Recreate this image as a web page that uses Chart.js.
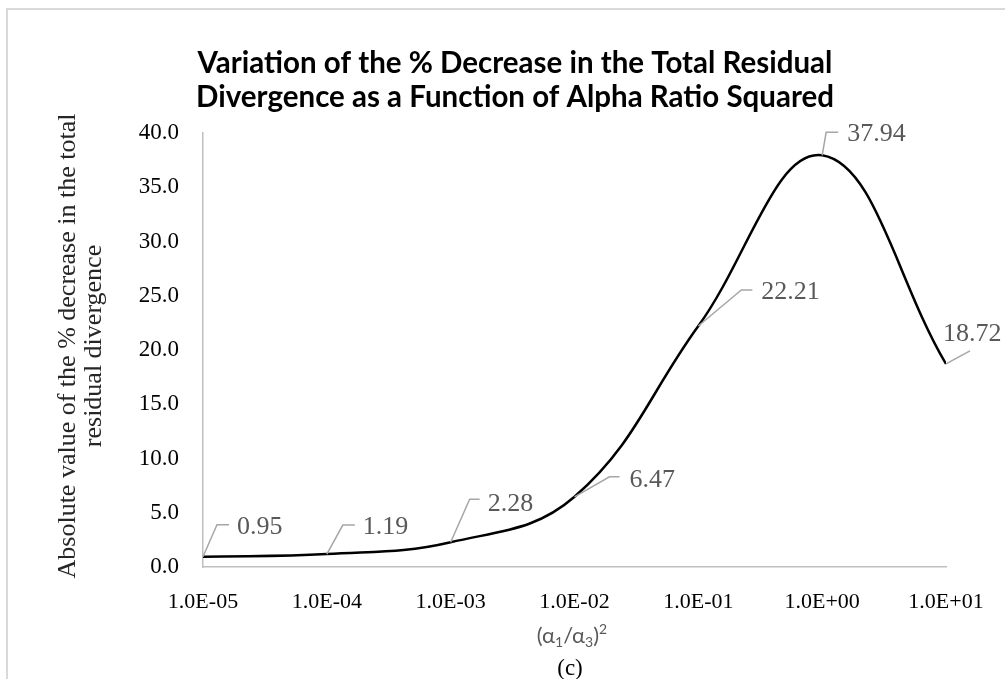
<!DOCTYPE html>
<html>
<head>
<meta charset="utf-8">
<script src="https://cdn.jsdelivr.net/npm/chart.js@4/dist/chart.umd.min.js"></script>
<style>
  html, body { margin: 0; padding: 0; background: #fff; overflow: hidden; }
  .frame {
    position: absolute; left: 6px; top: 8px; width: 1100px; height: 800px;
    border: 2px solid #d9d9d9; box-sizing: border-box;
  }
  #chart { position: absolute; left: 0; top: 0; }
</style>
</head>
<body>
<div class="frame"></div>
<canvas id="chart" width="1005" height="679"></canvas>
<script>
// (alpha1/alpha3)^2 values and the matching % decrease in residual divergence
const alphaRatioSq = [1e-5, 1e-4, 1e-3, 1e-2, 1e-1, 1, 10]
const pctDecrease = [0.95, 1.19, 2.28, 6.47, 22.21, 37.94, 18.72]
const xTickValues = [1e-5, 1e-4, 1e-3, 1e-2, 1e-1, 1, 10]
const xTickLabels = ["1.0E-05", "1.0E-04", "1.0E-03", "1.0E-02", "1.0E-01", "1.0E+00", "1.0E+01"]
const yMin = 0
const yMax = 40
const yStep = 5

const titleLines = [
  "Variation of the % Decrease in the Total Residual",
  "Divergence as a Function of Alpha Ratio Squared"
]
const yTitleLines = [
  "Absolute value of the % decrease in the total",
  "residual divergence"
]

// leader line layout per label: bend point, horizontal run, text anchor (all relative to the point)
const leaders = [
  { bx: 14, by: -32, h: 12, tx: 34, ty: -30 },
  { bx: 16, by: -29, h: 12, tx: 36, ty: -27 },
  { bx: 19, by: -43, h: 10, tx: 37, ty: -38 },
  { bx: 35, by: -20, h: 10, tx: 55, ty: -17 },
  { bx: 43, by: -36, h: 11, tx: 63, ty: -34 },
  { bx: 4, by: -23, h: 12, tx: 25, ty: -21 },
  { bx: 24, by: -13, h: 0, tx: -3, ty: -30 }
]

const serif = "'Liberation Serif', 'Times New Roman', serif"
const sans = "Lato, 'Liberation Sans', sans-serif"

const decorations = {
  id: "decorations",
  afterDatasetsDraw(chart) {
    const ctx = chart.ctx
    const meta = chart.getDatasetMeta(0)
    ctx.save()
    ctx.font = "26px " + serif
    ctx.textBaseline = "middle"
    ctx.textAlign = "left"
    meta.data.forEach((pt, i) => {
      const l = leaders[i]
      ctx.strokeStyle = "#a6a6a6"
      ctx.lineWidth = 1.5
      ctx.beginPath()
      ctx.moveTo(pt.x, pt.y)
      ctx.lineTo(pt.x + l.bx, pt.y + l.by)
      if (l.h) ctx.lineTo(pt.x + l.bx + l.h, pt.y + l.by)
      ctx.stroke()
      ctx.fillStyle = "#595959"
      ctx.fillText(pctDecrease[i].toFixed(2), pt.x + l.tx, pt.y + l.ty)
    })
    ctx.restore()
  },
  afterDraw(chart) {
    const ctx = chart.ctx
    const area = chart.chartArea
    ctx.save()

    // chart title, sized so the first line spans ~640px
    ctx.fillStyle = "#000"
    ctx.textAlign = "center"
    ctx.textBaseline = "middle"
    let size = 30
    ctx.font = "bold " + size + "px " + sans
    while (size > 20 && ctx.measureText(titleLines[0]).width > 640) {
      size -= 0.5
      ctx.font = "bold " + size + "px " + sans
    }
    ctx.fillText(titleLines[0], 515, 63)
    ctx.fillText(titleLines[1], 515, 97)

    // y axis title, two rotated lines
    const midY = (area.top + area.bottom) / 2 - 4
    ctx.save()
    ctx.translate(68, midY)
    ctx.rotate(-Math.PI / 2)
    ctx.font = "26px " + serif
    ctx.fillStyle = "#262626"
    ctx.fillText(yTitleLines[0], 0, 0)
    ctx.fillText(yTitleLines[1], 0, 26)
    ctx.restore()

    // x axis title (a1/a3)^2 with sub/superscripts
    const parts = [
      { t: "(\u03b1", size: 22, dy: 0 },
      { t: "1", size: 14, dy: 6 },
      { t: "/\u03b1", size: 22, dy: 0 },
      { t: "3", size: 14, dy: 6 },
      { t: ")", size: 22, dy: 0 },
      { t: "2", size: 14, dy: -7 }
    ]
    ctx.textAlign = "left"
    ctx.fillStyle = "#595959"
    let total = 0
    parts.forEach(p => {
      ctx.font = p.size + "px " + sans
      p.w = ctx.measureText(p.t).width
      total += p.w
    })
    let x = 572 - total / 2
    parts.forEach(p => {
      ctx.font = p.size + "px " + sans
      ctx.fillText(p.t, x, 636 + p.dy)
      x += p.w
    })

    ctx.textAlign = "center"
    ctx.fillStyle = "#000"
    ctx.font = "23px " + serif
    ctx.fillText("(c)", 570, 669)
    ctx.restore()
  }
}

new Chart(document.getElementById("chart"), {
  type: "line",
  data: {
    datasets: [{
      data: alphaRatioSq.map((x, i) => ({ x: x, y: pctDecrease[i] })),
      borderColor: "#000",
      borderWidth: 2.5,
      pointRadius: 0,
      tension: 0.4,
      fill: false
    }]
  },
  options: {
    responsive: false,
    animation: false,
    devicePixelRatio: 1,
    layout: { padding: { top: 133, right: 59, left: 0, bottom: 0 } },
    plugins: {
      legend: { display: false },
      tooltip: { enabled: false }
    },
    scales: {
      x: {
        type: "logarithmic",
        min: xTickValues[0],
        max: xTickValues[xTickValues.length - 1],
        grid: { display: false },
        border: { display: true, color: "#bfbfbf", width: 1.5 },
        afterBuildTicks: scale => {
          scale.ticks = xTickValues.map(v => ({ value: v }))
        },
        afterFit: scale => { scale.height = 112 },
        ticks: {
          color: "#000",
          padding: 14,
          maxRotation: 0,
          autoSkip: false,
          font: { family: serif, size: 22 },
          callback: (v) => xTickLabels[xTickValues.findIndex(t => Math.abs(Math.log10(t) - Math.log10(v)) < 1e-6)]
        }
      },
      y: {
        min: yMin,
        max: yMax,
        grid: { display: false },
        border: { display: true, color: "#bfbfbf", width: 1.5 },
        afterFit: scale => { scale.width = 203 },
        ticks: {
          stepSize: yStep,
          color: "#000",
          padding: 16,
          font: { family: serif, size: 23 },
          callback: v => v.toFixed(1)
        }
      }
    }
  },
  plugins: [decorations]
})
</script>
</body>
</html>
